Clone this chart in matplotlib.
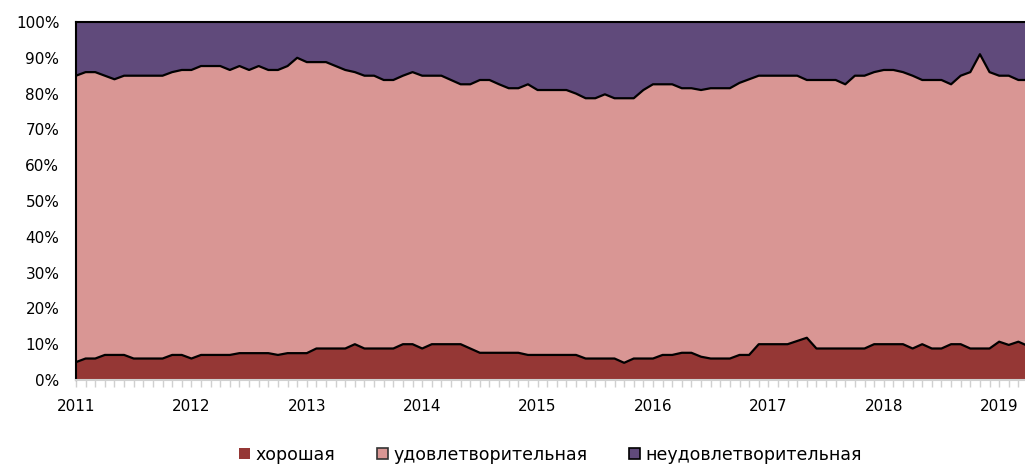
import numpy as np
import matplotlib
matplotlib.use("Agg")
import matplotlib.pyplot as plt
from matplotlib.patches import Patch
from matplotlib.ticker import FixedLocator, PercentFormatter

# monthly shares (%), Jan 2011 .. Apr 2019
good = [5, 6, 6, 7, 7, 7, 6, 6, 6, 6, 7, 7, 6, 7, 7, 7, 7, 7.5, 7.5, 7.5,
        7.5, 7, 7.5, 7.5, 7.5, 8.8, 8.8, 8.8, 8.8, 10, 8.8, 8.8, 8.8, 8.8, 10, 10, 8.8, 10, 10, 10,
        10, 8.8, 7.6, 7.6, 7.6, 7.6, 7.6, 7, 7, 7, 7, 7, 7, 6, 6, 6, 6, 4.8, 6, 6,
        6, 7, 7, 7.6, 7.6, 6.5, 6, 6, 6, 7, 7, 10, 10, 10, 10, 10.9, 11.8, 8.8, 8.8, 8.8,
        8.8, 8.8, 8.8, 10, 10, 10, 10, 8.8, 10, 8.8, 8.8, 10, 10, 8.8, 8.8, 8.8, 10.7, 9.8, 10.7, 9.5]
satisf = [80, 80, 80, 78, 77, 78, 79, 79, 79, 79, 79, 79.6, 80.6, 80.7, 80.7, 80.7, 79.6, 80.2, 79.1, 80.2,
          79.1, 79.6, 80.2, 82.5, 81.3, 80, 80, 78.9, 77.8, 76, 76.2, 76.2, 75, 75, 75, 76, 76.2, 75, 75, 73.8,
          72.6, 73.8, 76.2, 76.2, 75, 73.9, 73.9, 75.6, 74, 74, 74, 74, 73, 72.7, 72.7, 73.8, 72.7, 73.9, 72.7, 75,
          76.6, 75.6, 75.6, 73.9, 73.9, 74.5, 75.5, 75.5, 75.5, 76, 77, 75, 75, 75, 75, 74.1, 72, 75, 75, 75,
          73.8, 76.2, 76.2, 76, 76.6, 76.6, 76, 76.2, 73.8, 75, 75, 72.6, 75, 77.2, 82.2, 77.2, 74.3, 75.2, 73.1, 74.3]
unsatisf = [15, 14, 14, 15, 16, 15, 15, 15, 15, 15, 14, 13.4, 13.4, 12.3, 12.3, 12.3, 13.4, 12.3, 13.4, 12.3,
            13.4, 13.4, 12.3, 10, 11.2, 11.2, 11.2, 12.3, 13.4, 14, 15, 15, 16.2, 16.2, 15, 14, 15, 15, 15, 16.2,
            17.4, 17.4, 16.2, 16.2, 17.4, 18.5, 18.5, 17.4, 19, 19, 19, 19, 20, 21.3, 21.3, 20.2, 21.3, 21.3, 21.3, 19,
            17.4, 17.4, 17.4, 18.5, 18.5, 19, 18.5, 18.5, 18.5, 17, 16, 15, 15, 15, 15, 15, 16.2, 16.2, 16.2, 16.2,
            17.4, 15, 15, 14, 13.4, 13.4, 14, 15, 16.2, 16.2, 16.2, 17.4, 15, 14, 9, 14, 15, 15, 16.2, 16.2]
labels = ["хорошая", "удовлетворительная", "неудовлетворительная"]
years = ["2011", "2012", "2013", "2014", "2015", "2016", "2017", "2018", "2019"]
colors = ["#953735", "#D99694", "#604A7B"]

x = np.arange(len(good))

plt.rcParams["font.family"] = "DejaVu Sans"
fig = plt.figure(figsize=(10.25, 4.65), dpi=100)
ax = fig.add_axes([76 / 1025, 85 / 465, 952 / 1025, 358 / 465])

ax.stackplot(x, good, satisf, unsatisf, colors=colors, linewidth=0)
cum = np.cumsum([good, satisf], axis=0)
for row in cum:
    ax.plot(x, row, color="black", lw=1.6)

ax.set_xlim(0, 99)
ax.set_ylim(0, 100)
ax.yaxis.set_major_locator(FixedLocator(np.arange(0, 101, 10)))
ax.yaxis.set_major_formatter(PercentFormatter(decimals=0))
ax.set_xticks(np.arange(0, 97, 12))
ax.set_xticklabels(years)
ax.xaxis.set_minor_locator(FixedLocator(x))

ax.tick_params(axis="y", length=0, pad=12, labelsize=11)
ax.tick_params(axis="x", which="both", length=5, color="#D0D0D0", width=1, pad=9, labelsize=11)

for s in ["top", "left"]:
    ax.spines[s].set_color("black")
    ax.spines[s].set_linewidth(1.5)
ax.spines["right"].set_visible(False)
ax.spines["bottom"].set_color("#D0D0D0")
ax.spines["bottom"].set_linewidth(1.5)

handles = [Patch(facecolor=colors[0], edgecolor="none"),
           Patch(facecolor=colors[1], edgecolor="#333333", lw=1.2),
           Patch(facecolor=colors[2], edgecolor="black", lw=1.2)]
fig.legend(handles, labels, loc="center", bbox_to_anchor=(0.537, 0.022), ncol=3,
           frameon=False, fontsize=12.5, handlelength=0.65, handleheight=0.65,
           handletextpad=0.3, columnspacing=2.4)

fig.savefig("out.png", dpi=100)
